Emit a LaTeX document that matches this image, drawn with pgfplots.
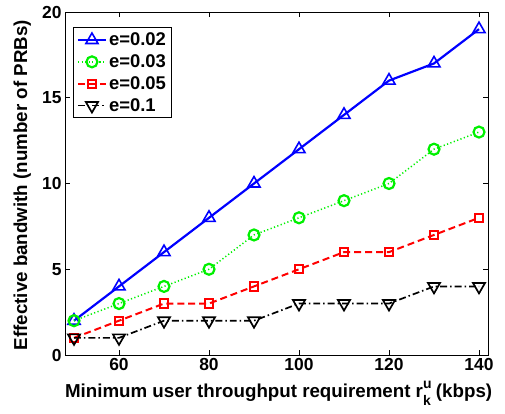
\documentclass[border=0pt]{standalone}
\usepackage{amsmath}
\usepackage{fontspec}
\setmainfont{Liberation Sans}
\usepackage{pgfplots}
\pgfplotsset{compat=1.18}
\definecolor{mblue}{RGB}{0,0,255}
\definecolor{mgreen}{RGB}{0,240,0}
\definecolor{mred}{RGB}{255,0,0}
\newcommand{\subsup}{r\rlap{\raisebox{0.5em}{\fontsize{14}{14}\selectfont u}}\raisebox{-0.42em}{\fontsize{14}{14}\selectfont k}}

\begin{document}
\begin{tikzpicture}
\begin{axis}[
    name=main,
    scale only axis,
    width=423bp, height=343bp,
    xmin=48, xmax=142,
    ymin=0, ymax=20,
    xtick={60,80,100,120,140},
    ytick={0,5,10,15,20},
    tick align=inside,
    major tick length=5bp,
    axis line style={line width=0.8pt},
    every tick/.style={line width=0.6pt},
    tick label style={font=\fontsize{17.5}{19}\selectfont\bfseries},
    /pgf/number format/assume math mode=true,
    xlabel={Minimum user throughput requirement \subsup\ (kbps)},
    ylabel={Effective bandwith (number of PRBs)},
    label style={font=\fontsize{18.8}{20}\selectfont\bfseries},
    xlabel style={at={(axis description cs:0.505,-0.125)}, anchor=base},
    ylabel style={at={(axis description cs:-0.101,0.495)}, anchor=center},
    legend style={at={(0.02,0.955)}, anchor=north west,
        font=\fontsize{18.5}{20}\selectfont\bfseries,
        draw=black, line width=0.8pt, inner xsep=3bp, inner ysep=3bp,
        row sep=3.5bp},
    legend cell align=left,
    legend image code/.code={
        \draw[mark repeat=2,mark phase=2] plot coordinates {(0bp,0bp) (14bp,0bp) (28bp,0bp)};
    },
]
\addplot[mblue, line width=2.2pt, mark=triangle, mark size=7bp,
    mark options={solid, line width=1.6pt}] coordinates {
(50,2) (60,4) (70,6) (80,8) (90,10) (100,12) (110,14) (120,16) (130,17) (140,19)
};
\addlegendentry{e=0.02}
\addplot[mgreen, line width=1.5pt, dash pattern=on 1.2pt off 2.4pt, mark=o, mark size=5.5bp,
    mark options={solid, line width=2.2pt}] coordinates {
(50,2) (60,3) (70,4) (80,5) (90,7) (100,8) (110,9) (120,10) (130,12) (140,13)
};
\addlegendentry{e=0.03}
\addplot[mred, line width=2pt, dash pattern=on 7pt off 4pt, mark=square, mark size=4.2bp,
    mark options={solid, line width=2pt}] coordinates {
(50,1) (60,2) (70,3) (80,3) (90,4) (100,5) (110,6) (120,6) (130,7) (140,8)
};
\addlegendentry{e=0.05}
\addplot[black, line width=1.7pt, dash pattern=on 7pt off 3pt on 1.5pt off 3pt, mark=triangle, mark size=7bp,
    mark options={solid, rotate=180, line width=1.7pt}] coordinates {
(50,1) (60,1) (70,2) (80,2) (90,2) (100,3) (110,3) (120,3) (130,4) (140,4)
};
\addlegendentry{e=0.1}
\end{axis}
\path ([shift={(-65bp,-58bp)}]main.south west) rectangle ([shift={(17bp,12bp)}]main.north east);
\end{tikzpicture}
\end{document}
